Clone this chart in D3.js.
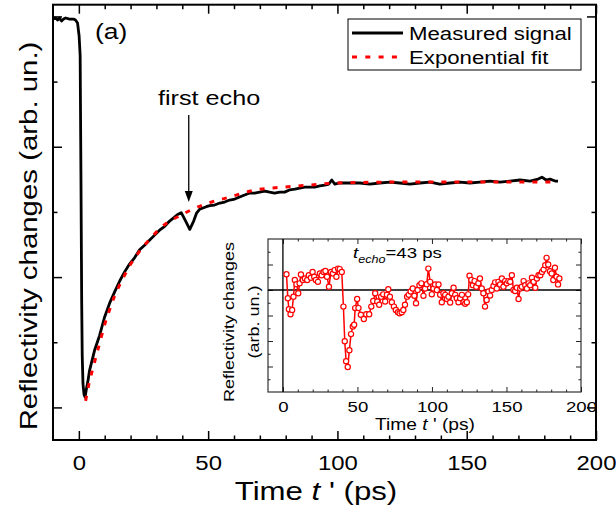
<!DOCTYPE html>
<html><head><meta charset="utf-8">
<script src="https://cdn.jsdelivr.net/npm/d3@7"></script>
<style>
body{margin:0;background:#fff}
svg text{font-family:"Liberation Sans",Arial,sans-serif;fill:#000}
</style>
</head><body>
<svg id="chart" width="616" height="511"></svg>
<script>
// ---------- data ----------
const signalT = [-10.0,-9.0,-8.2,-7.5,-6.7,-5.9,-5.1,-3.6,-2.1,-1.3,-0.5,0.1,0.5,0.8,1.1,1.3,1.6,2.0,2.4,2.9,3.5,4.1,6.1,8.0,9.9,11.9,13.8,15.8,17.7,19.6,21.6,23.5,25.4,27.4,29.3,31.2,33.2,35.1,37.0,38.2,39.6,41.3,42.9,44.4,45.5,46.7,49.3,50.6,52.5,54.5,56.4,58.3,60.3,62.2,64.1,66.1,68.0,69.9,71.9,73.8,75.7,77.7,79.6,81.6,83.5,85.4,87.4,89.3,91.2,93.2,95.1,96.7,97.8,99.0,100.9,102.9,104.8,108.7,112.5,116.4,120.3,124.1,128.0,131.9,135.8,139.6,143.5,147.4,151.2,155.1,159.0,162.9,166.7,170.6,174.5,177.6,179.1,180.7,182.2,184.2,185.3];
const signalV = [-0.020,-0.012,-0.028,-0.012,-0.035,-0.020,-0.012,-0.020,-0.020,-0.028,-0.051,-0.15,-0.30,-1.20,-2.20,-2.60,-2.82,-2.90,-2.92,-2.86,-2.80,-2.72,-2.56,-2.45,-2.31,-2.20,-2.115,-2.03,-1.96,-1.90,-1.85,-1.79,-1.755,-1.716,-1.678,-1.64,-1.61,-1.57,-1.54,-1.52,-1.506,-1.57,-1.634,-1.57,-1.51,-1.48,-1.46,-1.452,-1.447,-1.432,-1.424,-1.409,-1.401,-1.386,-1.37,-1.355,-1.355,-1.348,-1.34,-1.348,-1.355,-1.348,-1.348,-1.33,-1.325,-1.317,-1.31,-1.31,-1.31,-1.30,-1.294,-1.286,-1.255,-1.286,-1.278,-1.278,-1.278,-1.278,-1.286,-1.278,-1.271,-1.278,-1.286,-1.278,-1.271,-1.286,-1.278,-1.271,-1.278,-1.271,-1.263,-1.271,-1.263,-1.255,-1.263,-1.248,-1.233,-1.255,-1.248,-1.263,-1.263];

const fitT = [2.6,3.8,6.1,8.0,9.9,11.9,13.8,15.8,17.7,19.6,21.6,23.5,27.4,31.2,35.1,39.0,42.6,47.9,58.3,68.8,78.8,89.3,99.8,124.1,155.1,185.3];
const fitV = [-2.95,-2.83,-2.65,-2.51,-2.37,-2.25,-2.146,-2.06,-1.985,-1.915,-1.854,-1.80,-1.71,-1.63,-1.57,-1.53,-1.493,-1.447,-1.386,-1.33,-1.31,-1.294,-1.278,-1.271,-1.271,-1.271];

const insetT = [2.4,3.3,4.0,5.1,6.2,7.1,8.0,9.1,10.3,11.2,12.1,13.4,14.8,16.3,17.4,18.8,19.9,21.0,22.1,23.5,24.8,26.0,27.3,28.5,29.6,30.9,32.3,33.6,34.7,35.9,37.0,38.1,39.5,40.6,41.5,42.4,43.5,44.6,45.7,46.9,47.8,48.5,49.8,50.7,52.3,54.3,55.9,57.9,59.3,60.6,61.9,63.3,64.6,65.9,67.3,68.6,69.8,70.7,71.8,73.1,74.5,75.8,77.2,78.3,79.7,80.8,81.9,83.3,84.4,85.7,87.1,88.2,89.3,90.4,91.6,92.9,94.3,95.4,96.5,97.6,98.8,99.9,101.0,102.1,103.3,104.4,105.5,106.6,107.7,108.9,110.0,111.1,112.2,113.3,114.5,115.6,116.7,117.8,118.9,120.1,121.2,122.3,123.4,124.3,125.2,126.4,127.5,128.6,129.7,131.1,132.2,133.4,134.5,135.6,136.7,137.9,139.0,140.1,141.3,142.4,143.5,144.6,145.7,146.9,148.0,149.1,150.2,151.3,152.5,153.6,154.7,155.8,157.0,158.1,159.2,160.3,161.5,162.6,163.7,164.8,165.9,167.1,168.2,169.3,170.4,171.5,172.7,173.8,174.9,176.0,176.9,178.0,179.2,180.3,181.4,182.5,183.6,184.6,185.5];
const insetV = [0.62,-0.32,-0.75,-0.95,-0.78,-0.26,0.39,0.23,-0.13,0.26,0.61,0.39,0.45,0.39,0.58,0.48,0.71,0.52,0.39,0.32,0.65,0.58,0.71,0.75,0.52,0.13,0.71,0.65,0.78,0.52,0.84,0.82,0.71,-0.65,-2.01,-2.79,-3.02,-2.36,-1.73,-1.43,-1.36,-0.71,-0.35,-0.71,-0.97,-1.14,-0.95,-0.95,-0.65,-0.43,-0.13,-0.45,-0.58,-0.26,-0.17,-0.45,-0.19,0.03,-0.26,-0.48,-0.65,-0.78,-0.87,-0.91,-0.87,-0.78,-0.58,-0.26,-0.19,-0.06,0.06,-0.23,-0.52,0.00,0.19,0.26,-0.23,0.06,0.23,0.84,0.32,-0.17,0.06,0.22,0.00,0.22,-0.19,-0.48,-0.13,-0.19,-0.35,-0.26,-0.49,-0.13,0.09,-0.19,-0.32,-0.48,-0.32,-0.19,-0.48,-0.54,-0.48,-0.17,0.56,0.39,0.19,0.35,0.13,0.26,0.45,0.06,-0.13,-0.65,-0.39,-0.06,-0.22,0.00,0.16,0.30,0.06,0.32,0.22,0.45,0.13,0.35,0.26,0.35,0.32,0.58,0.00,-0.04,0.09,-0.35,0.06,0.13,0.35,0.19,0.06,0.26,0.19,0.48,0.32,0.09,0.45,0.58,0.58,0.71,0.80,0.97,1.26,1.00,0.74,0.65,0.39,0.87,0.52,0.22,0.45];

const xTickLabels = [0, 50, 100, 150, 200];
const yMajorTicks = [0, -1, -2, -3];
const insetXTickLabels = [0, 50, 100, 150, 200];
const insetYMajorTicks = [-3, -2, -1, 0, 1];
const legendLabels = ["Measured signal", "Exponential fit"];
const panelLabel = "(a)";
const echoLabel = "first echo";
const echoTime = 43;

// ---------- drawing ----------
const SX = 1.2; // horizontal glyph stretch of the reference font
const svg = d3.select("#chart");
const M = {l: 53, r: 596, t: 4.7, b: 440};
const x = d3.scaleLinear([-10, 200], [M.l, M.r]);
const y = d3.scaleLinear([-3.25, 0.09], [M.b, M.t]);

function stretchText(g, px, py, size, anchor) {
  return g.append("text")
    .attr("transform", `translate(${px},${py}) scale(${SX},1)`)
    .attr("text-anchor", anchor || "start")
    .style("font-size", size + "px");
}
function styleAxis(g, size, sx) {
  g.select(".domain").remove();
  g.selectAll("line").attr("stroke", "#000").attr("stroke-width", 1.5);
  g.selectAll("text").attr("transform", `scale(${sx || SX},1)`).style("font-size", size + "px")
    .style("font-family", '"Liberation Sans",Arial,sans-serif').attr("fill", "#000");
}
const xMinor = d3.range(10, 200, 10).filter(v => v % 50 !== 0);
const yMinor = [-0.5, -1.5, -2.5];

// main axes
svg.append("g").attr("transform", `translate(0,${M.b})`)
  .call(d3.axisBottom(x).tickValues(xTickLabels).tickSize(-9).tickPadding(15.5).tickFormat(d3.format("d")))
  .call(g => styleAxis(g, 20.8, 1.15));
svg.append("g").attr("transform", `translate(0,${M.b})`)
  .call(d3.axisBottom(x).tickValues(xMinor).tickSize(-4.5).tickFormat(""))
  .call(g => styleAxis(g, 10));
svg.append("g").attr("transform", `translate(0,${M.t})`)
  .call(d3.axisTop(x).tickValues(xTickLabels).tickSize(-9).tickFormat(""))
  .call(g => styleAxis(g, 10));
svg.append("g").attr("transform", `translate(0,${M.t})`)
  .call(d3.axisTop(x).tickValues(xMinor).tickSize(-4.5).tickFormat(""))
  .call(g => styleAxis(g, 10));
svg.append("g").attr("transform", `translate(${M.l},0)`)
  .call(d3.axisLeft(y).tickValues(yMajorTicks).tickSize(-9).tickFormat(""))
  .call(g => styleAxis(g, 10));
svg.append("g").attr("transform", `translate(${M.l},0)`)
  .call(d3.axisLeft(y).tickValues(yMinor).tickSize(-4.5).tickFormat(""))
  .call(g => styleAxis(g, 10));
svg.append("g").attr("transform", `translate(${M.r},0)`)
  .call(d3.axisRight(y).tickValues(yMajorTicks).tickSize(-9).tickFormat(""))
  .call(g => styleAxis(g, 10));
svg.append("g").attr("transform", `translate(${M.r},0)`)
  .call(d3.axisRight(y).tickValues(yMinor).tickSize(-4.5).tickFormat(""))
  .call(g => styleAxis(g, 10));

svg.append("rect").attr("x", M.l).attr("y", M.t).attr("width", M.r - M.l).attr("height", M.b - M.t)
  .attr("fill", "none").attr("stroke", "#000").attr("stroke-width", 2);

// main lines
const sig = signalT.map((t, i) => [t, signalV[i]]);
const fit = fitT.map((t, i) => [t, fitV[i]]);
const line = d3.line().x(d => x(d[0])).y(d => y(d[1]));
svg.append("path").attr("d", line(sig)).attr("fill", "none").attr("stroke", "#000")
  .attr("stroke-width", 2.8).attr("stroke-linejoin", "round");
svg.append("path").attr("d", line.curve(d3.curveMonotoneX)(fit)).attr("fill", "none").attr("stroke", "#ff0000")
  .attr("stroke-width", 3).attr("stroke-dasharray", "5,8");

// labels
stretchText(svg, 95, 38.7, 22).text(panelLabel);
stretchText(svg, 158, 105, 21).text(echoLabel);
const ax = x(echoTime - 0.5);
svg.append("line").attr("x1", ax).attr("x2", ax).attr("y1", 115).attr("y2", 192)
  .attr("stroke", "#000").attr("stroke-width", 1.3);
svg.append("path").attr("d", `M${ax - 4},${191} L${ax + 4},${191} L${ax},${202} Z`).attr("fill", "#000");

// legend
svg.append("rect").attr("x", 348).attr("y", 19).attr("width", 233).attr("height", 51)
  .attr("fill", "#fff").attr("stroke", "#000").attr("stroke-width", 1);
svg.append("line").attr("x1", 352).attr("x2", 403).attr("y1", 33).attr("y2", 33)
  .attr("stroke", "#000").attr("stroke-width", 3);
svg.append("line").attr("x1", 352).attr("x2", 403).attr("y1", 57).attr("y2", 57)
  .attr("stroke", "#ff0000").attr("stroke-width", 3).attr("stroke-dasharray", "5,8.3");
stretchText(svg, 409, 40, 18.5).text(legendLabels[0]);
stretchText(svg, 409, 63.5, 18.5).text(legendLabels[1]);

// axis titles
svg.append("text")
  .attr("transform", `translate(37,236) rotate(-90) scale(${SX},1)`)
  .attr("text-anchor", "middle").style("font-size", "24.5px")
  .text("Reflectivity changes (arb. un.)");
const xt = stretchText(svg, 316, 500, 26, "middle");
xt.append("tspan").text("Time ");
xt.append("tspan").style("font-style", "italic").text("t");
xt.append("tspan").text(" ' (ps)");

// ---------- inset ----------
const I = {l: 268, r: 581, t: 239, b: 392};
const xi = d3.scaleLinear([-10, 200], [I.l, I.r]);
const yi = d3.scaleLinear([-4, 2], [I.b, I.t]);
function styleInset(g, size) {
  g.select(".domain").remove();
  g.selectAll("line").attr("stroke", "#222").attr("stroke-width", 1);
  g.selectAll("text").attr("transform", `scale(${SX},1)`).style("font-size", size + "px")
    .style("font-family", '"Liberation Sans",Arial,sans-serif').attr("fill", "#000");
}
const xiMinor = d3.range(-10, 200, 10).filter(v => v % 50 !== 0 && v > -10);
const yiMinor = [-3.5, -2.5, -1.5, -0.5, 0.5, 1.5];
svg.append("rect").attr("x", I.l).attr("y", I.t).attr("width", I.r - I.l).attr("height", I.b - I.t)
  .attr("fill", "#fff").attr("stroke", "#333").attr("stroke-width", 1.2);
svg.append("g").attr("transform", `translate(0,${I.b})`)
  .call(d3.axisBottom(xi).tickValues(insetXTickLabels).tickSize(-5).tickPadding(8.7).tickFormat(d3.format("d")))
  .call(g => styleInset(g, 15.5));
svg.append("g").attr("transform", `translate(0,${I.b})`)
  .call(d3.axisBottom(xi).tickValues(xiMinor).tickSize(-2.5).tickFormat(""))
  .call(g => styleInset(g, 10));
svg.append("g").attr("transform", `translate(0,${I.t})`)
  .call(d3.axisTop(xi).tickValues(insetXTickLabels).tickSize(-5).tickFormat(""))
  .call(g => styleInset(g, 10));
svg.append("g").attr("transform", `translate(0,${I.t})`)
  .call(d3.axisTop(xi).tickValues(xiMinor).tickSize(-2.5).tickFormat(""))
  .call(g => styleInset(g, 10));
svg.append("g").attr("transform", `translate(${I.l},0)`)
  .call(d3.axisLeft(yi).tickValues(insetYMajorTicks).tickSize(-5).tickFormat(""))
  .call(g => styleInset(g, 10));
svg.append("g").attr("transform", `translate(${I.l},0)`)
  .call(d3.axisLeft(yi).tickValues(yiMinor).tickSize(-2.5).tickFormat(""))
  .call(g => styleInset(g, 10));
svg.append("g").attr("transform", `translate(${I.r},0)`)
  .call(d3.axisRight(yi).tickValues(insetYMajorTicks).tickSize(-5).tickFormat(""))
  .call(g => styleInset(g, 10));
svg.append("g").attr("transform", `translate(${I.r},0)`)
  .call(d3.axisRight(yi).tickValues(yiMinor).tickSize(-2.5).tickFormat(""))
  .call(g => styleInset(g, 10));
// zero lines
svg.append("line").attr("x1", I.l).attr("x2", I.r).attr("y1", yi(0)).attr("y2", yi(0))
  .attr("stroke", "#000").attr("stroke-width", 1.3);
svg.append("line").attr("x1", xi(0)).attr("x2", xi(0)).attr("y1", I.t).attr("y2", I.b)
  .attr("stroke", "#000").attr("stroke-width", 1.3);
// inset data
const ins = insetT.map((t, i) => [t, insetV[i]]);
svg.append("path").attr("d", d3.line().x(d => xi(d[0])).y(d => yi(d[1]))(ins))
  .attr("fill", "none").attr("stroke", "#ff0000").attr("stroke-width", 1.5);
svg.append("g").selectAll("circle").data(ins).join("circle")
  .attr("cx", d => xi(d[0])).attr("cy", d => yi(d[1])).attr("r", 2.6)
  .attr("fill", "#fff").attr("stroke", "#ff0000").attr("stroke-width", 1.2);
// inset texts
const te = stretchText(svg, 353, 258.3, 15.5);
te.append("tspan").style("font-style", "italic").text("t");
te.append("tspan").style("font-style", "italic").style("font-size", "10.5px").attr("dy", 4.5).text("echo");
te.append("tspan").attr("dy", -4.5).text("=" + echoTime + " ps");
svg.append("text").attr("transform", `translate(234,322) rotate(-90) scale(${SX},1)`)
  .attr("text-anchor", "middle").style("font-size", "15px").text("Reflectivity changes");
svg.append("text").attr("transform", `translate(258.5,322) rotate(-90) scale(${SX},1)`)
  .attr("text-anchor", "middle").style("font-size", "15px").text("(arb. un.)");
const xit = stretchText(svg, 425, 429.5, 16, "middle");
xit.append("tspan").text("Time ");
xit.append("tspan").style("font-style", "italic").text("t");
xit.append("tspan").text(" ' (ps)");
</script>
</body></html>
